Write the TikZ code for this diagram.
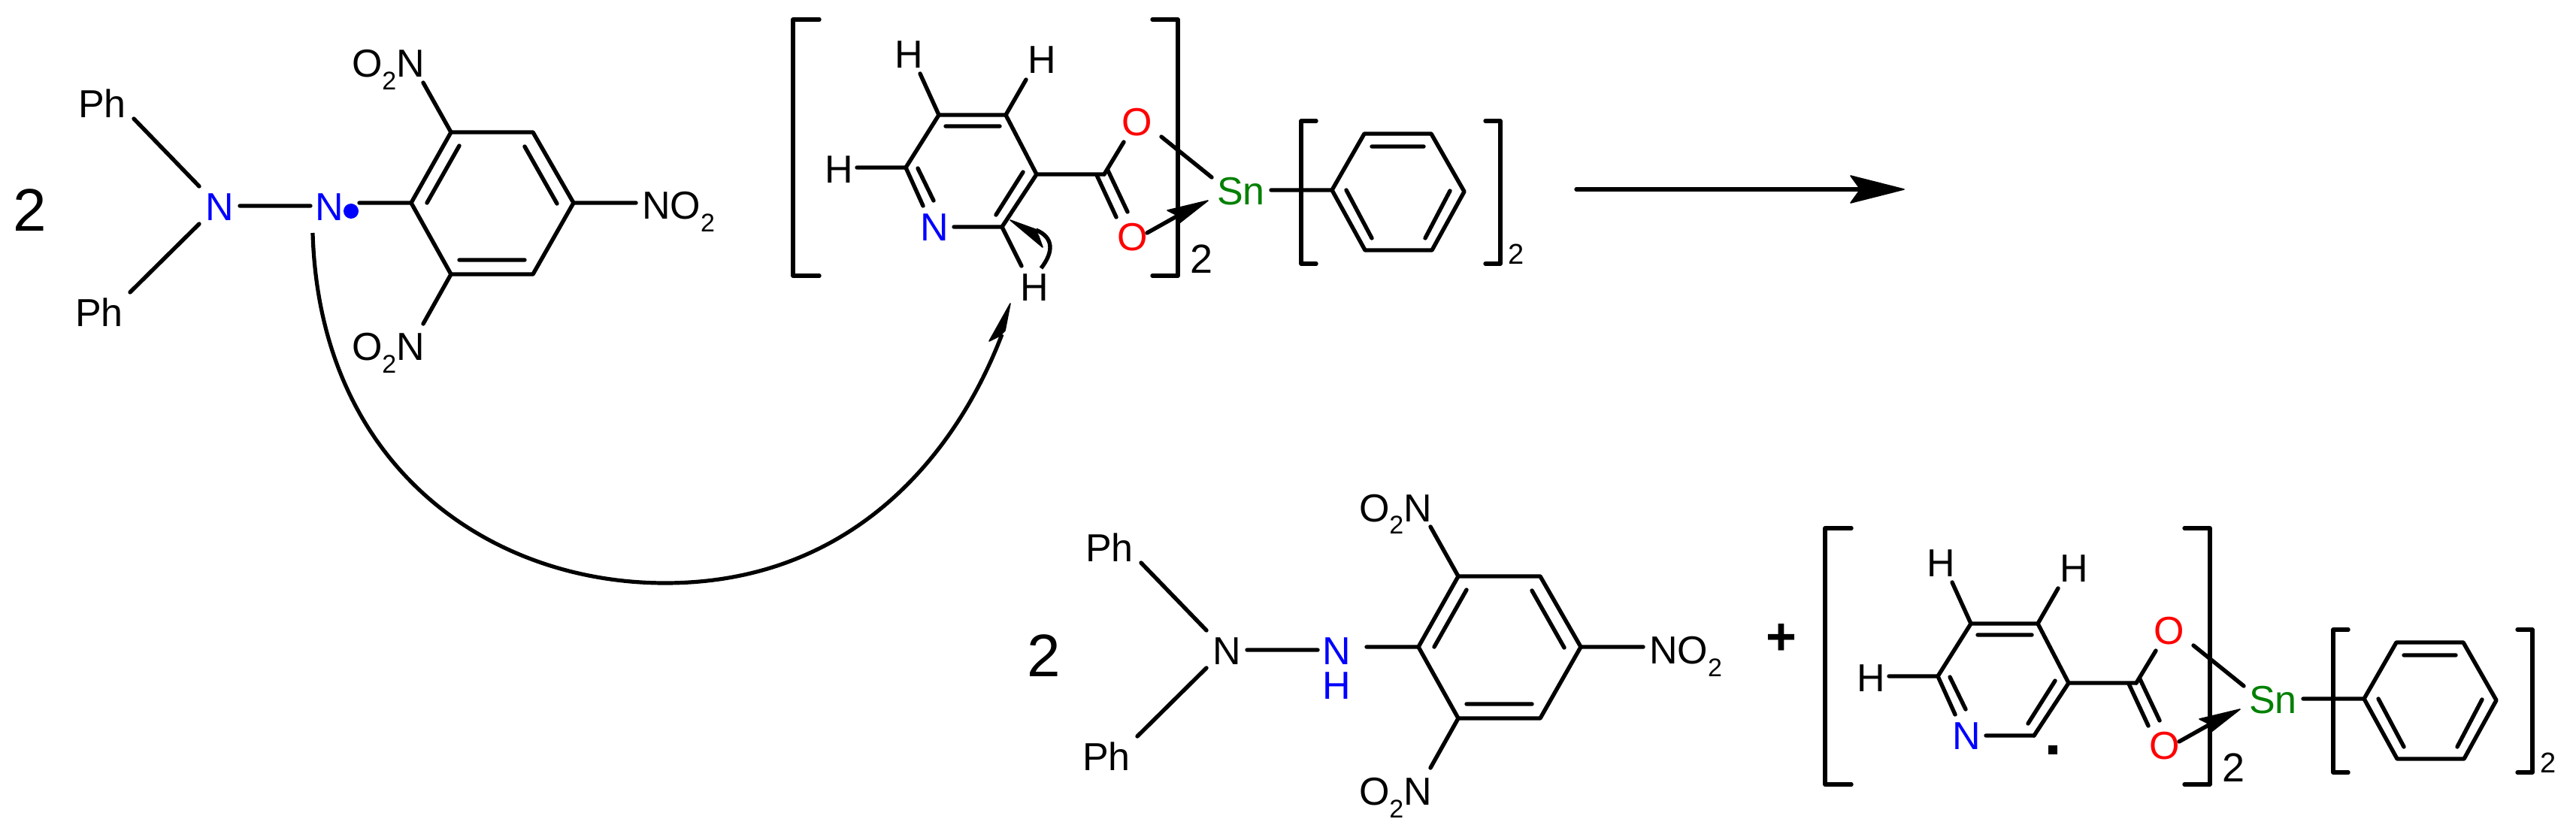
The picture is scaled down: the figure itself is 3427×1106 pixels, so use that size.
\documentclass[tikz,border=0pt]{standalone}
\usepackage{fontspec}
\setmainfont{Liberation Sans}
\newcommand{\subtwo}{\raisebox{-8.5pt}{\fontsize{17}{18}\selectfont 2}}
\definecolor{atomblue}{RGB}{0,0,255}
\definecolor{atomred}{RGB}{255,0,0}
\definecolor{atomgreen}{RGB}{0,128,0}
\tikzset{
  bond/.style={line width=2.7pt,line cap=round,line join=round,black},
  thinarc/.style={line width=2.6pt,line cap=butt,black},
  head/.style={fill=black,draw=black,line width=.8pt,line join=round},
  atom/.style={inner sep=0pt,outer sep=0pt,font=\fontsize{26}{28}\selectfont},
  coef/.style={inner sep=0pt,outer sep=0pt,font=\fontsize{40}{42}\selectfont},
  bigsub/.style={inner sep=0pt,outer sep=0pt,font=\fontsize{27}{29}\selectfont},
  smallsub/.style={inner sep=0pt,outer sep=0pt,font=\fontsize{19}{21}\selectfont},
}
% picryl hydrazine skeleton
\newcommand{\picrylunit}{%
  \node[atom] (ph1) at (136,138) {Ph};
  \node[atom] (ph2) at (132,416) {Ph};
  \node[atom,anchor=base west] (no1) at (468,103) {O\subtwo N};
  \node[atom,anchor=base west] (no2) at (468,480) {O\subtwo N};
  \node[atom,anchor=base west] (no3) at (854,292) {NO\subtwo};
  \coordinate (v1) at (547,270);
  \coordinate (v2) at (600,176);
  \coordinate (v3) at (709,176);
  \coordinate (v4) at (763,270);
  \coordinate (v5) at (709,365);
  \coordinate (v6) at (600,365);
  \coordinate (i1) at (568,270); \coordinate (i2) at (611,194);
  \coordinate (i3) at (698,195); \coordinate (i4) at (741,271);
  \coordinate (i5) at (611,346); \coordinate (i6) at (698,346);
  \coordinate (e1) at (563,110); \coordinate (e2) at (563,431);
  \coordinate (e3) at (846,270); \coordinate (e4) at (478,270);
  \coordinate (p1) at (178,158); \coordinate (p2) at (265,248);
  \coordinate (p3) at (173,389); \coordinate (p4) at (265,298);
  \coordinate (n1) at (319,274); \coordinate (n2) at (413,274);
  \draw[bond] (v1)--(v2)--(v3)--(v4)--(v5)--(v6)--cycle;
  \draw[bond] (i1)--(i2) (i3)--(i4) (i5)--(i6);
  \draw[bond] (e1)--(v2) (e2)--(v6) (e3)--(v4) (e4)--(v1);
  \draw[bond] (p1)--(p2) (p3)--(p4) (n1)--(n2);
}
% bis(nicotinate) tin diphenyl skeleton
\newcommand{\tinunit}{%
  \node[atom] (ha) at (1209,73) {H};
  \node[atom] (hb) at (1386,80) {H};
  \node[atom] (hc) at (1116,226) {H};
  \node[atom,text=atomblue] (npy) at (1243,303) {N};
  \node[atom,text=atomred] (o1) at (1513,163) {O};
  \node[atom,text=atomred] (o2) at (1507,316) {O};
  \node[atom,text=atomgreen] (sn) at (1651,255) {Sn};
  \node[bigsub] (s1) at (1598,345) {2};
  \node[smallsub] (s2) at (2017,338) {2};
  \coordinate (a) at (1249,153);
  \coordinate (b) at (1338,153);
  \coordinate (c) at (1379,232);
  \coordinate (d) at (1333,302);
  \coordinate (e) at (1205,223);
  \coordinate (f) at (1469,232);
  \draw[bond] (e)--(a)--(b)--(c)--(d) (c)--(f);
  \coordinate (q1) at (1228,274); \coordinate (q2) at (1269,302);
  \draw[bond] (e)--(q1) (q2)--(d);
  \coordinate (r1) at (1325,286); \coordinate (r2) at (1361,229);
  \coordinate (r3) at (1258,168); \coordinate (r4) at (1330,168);
  \coordinate (r5) at (1221,224); \coordinate (r6) at (1242,267);
  \draw[bond] (r1)--(r2) (r3)--(r4) (r5)--(r6);
  \coordinate (t1) at (1224,98); \coordinate (t2) at (1365,106); \coordinate (t3) at (1140,223);
  \draw[bond] (t1)--(a) (t2)--(b) (t3)--(e);
  \coordinate (c1) at (1459,233); \coordinate (c2) at (1485,289);
  \coordinate (c3) at (1474,227); \coordinate (c4) at (1500,282);
  \coordinate (c5) at (1495,189);
  \draw[bond] (c1)--(c2) (c3)--(c4) (f)--(c5);
  \coordinate (u1) at (1545,182); \coordinate (u2) at (1612,236);
  \draw[bond] (u1)--(u2);
  \coordinate (da) at (1526,310); \coordinate (db) at (1567,287);
  \draw[bond] (da)--(db);
  \coordinate (dt) at (1607,267); \coordinate (dl) at (1553,280); \coordinate (dr) at (1565,300);
  \path[head] (dt)--(dl)--(db)--(dr)--cycle;
  \coordinate (w1) at (1691,253);
  \coordinate (g1) at (1772,253); \coordinate (g2) at (1815,178);
  \coordinate (g3) at (1904,178); \coordinate (g4) at (1948,255);
  \coordinate (g5) at (1905,333); \coordinate (g6) at (1816,333);
  \draw[bond] (g1)--(g2)--(g3)--(g4)--(g5)--(g6)--cycle (w1)--(g1);
  \coordinate (h1) at (1825,195); \coordinate (h2) at (1894,195);
  \coordinate (h3) at (1791,253); \coordinate (h4) at (1825,317);
  \coordinate (h5) at (1929,254); \coordinate (h6) at (1896,317);
  \draw[bond] (h1)--(h2) (h3)--(h4) (h5)--(h6);
  \coordinate (bl1) at (1090,26); \coordinate (bl2) at (1055,26);
  \coordinate (bl3) at (1055,367); \coordinate (bl4) at (1090,367);
  \coordinate (br1) at (1533,26); \coordinate (br2) at (1567,26);
  \coordinate (br3) at (1567,367); \coordinate (br4) at (1533,367);
  \draw[bond] (bl1)--(bl2)--(bl3)--(bl4) (br1)--(br2)--(br3)--(br4);
  \coordinate (cl1) at (1751,161); \coordinate (cl2) at (1731,161);
  \coordinate (cl3) at (1731,351); \coordinate (cl4) at (1751,351);
  \coordinate (cr1) at (1976,161); \coordinate (cr2) at (1996,161);
  \coordinate (cr3) at (1996,351); \coordinate (cr4) at (1976,351);
  \draw[bond] (cl1)--(cl2)--(cl3)--(cl4) (cr1)--(cr2)--(cr3)--(cr4);
}
\begin{document}
\begin{tikzpicture}[x=.5pt,y=-.5pt]
\useasboundingbox (0,0) rectangle (3427,1106);
% top reactant
\begin{scope}[name prefix=top-]
  \picrylunit
  \node[coef] (two) at (40,280) {2};
  \node[atom,text=atomblue] (na) at (292,276) {N};
  \node[atom,text=atomblue] (nb) at (438,276) {N};
  \node[circle,fill=atomblue,inner sep=0pt,minimum size=10pt] (rad) at (467,281) {};
  \tinunit
  \node[atom] (hd) at (1376,383) {H};
  \coordinate (dh) at (1359,354);
  \draw[bond] (d)--(dh);
\end{scope}
% electron arrows
\coordinate (arcA) at (416,310);
\coordinate (arcB) at (885,776);
\coordinate (arcC) at (1333,445);
\draw[thinarc] (arcA) .. controls (425,620) and (650,776) .. (arcB)
  .. controls (1130,776) and (1270,610) .. (arcC);
\coordinate (arcT) at (1344,404);
\coordinate (arcL) at (1316,454);
\coordinate (arcN) at (1330,447);
\coordinate (arcR) at (1337,440);
\path[head] (arcT)--(arcL)--(arcN)--(arcR)--cycle;
\coordinate (loopA) at (1385,357);
\coordinate (loopB) at (1378,306);
\draw[line width=2.7pt,black] (loopA) .. controls (1402,335) and (1402,316) .. (loopB);
\coordinate (loopT) at (1344,293);
\coordinate (loopU) at (1377,305);
\coordinate (loopV) at (1387,329);
\path[head] (loopT)--(loopU)--(1382,315)--(loopV)--cycle;
% reaction arrow
\coordinate (rxA) at (2097,252);
\coordinate (rxB) at (2480,252);
\coordinate (rxT) at (2533,252);
\draw[bond] (rxA)--(rxB);
\path[head] (rxT)--(2462,234)--(2475,252)--(2462,270)--cycle;
% bottom products
\begin{scope}[name prefix=bot-,shift={(1340,591)}]
  \picrylunit
  \node[atom] (na) at (292,276) {N};
  \node[atom,text=atomblue] (nb) at (438,276) {N};
  \node[atom,text=atomblue] (nh) at (438,322) {H};
\end{scope}
\node[coef] (twob) at (1389,873) {2};
\node[inner sep=0pt,font=\fontsize{35}{37}\selectfont\bfseries] (plus) at (2370,851) {+};
\begin{scope}[name prefix=prod-,shift={(1373,677)}]
  \tinunit
  \node[fill=black,inner sep=0pt,minimum size=6pt] (dot) at (1358,321) {};
\end{scope}
\end{tikzpicture}
\end{document}
